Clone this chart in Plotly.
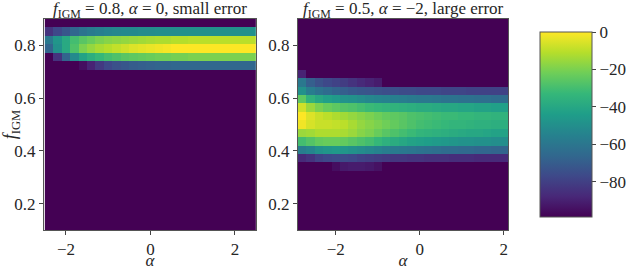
import plotly.graph_objects as go

# ---------------- data ----------------
alpha_left = [-2.4, -2.2, -2.0, -1.8, -1.6, -1.4, -1.2, -1.0, -0.8, -0.6, -0.4, -0.2,
              0.0, 0.2, 0.4, 0.6, 0.8, 1.0, 1.2, 1.4, 1.6, 1.8, 2.0, 2.2, 2.4]
alpha_right = [-2.8, -2.6, -2.4, -2.2, -2.0, -1.8, -1.6, -1.4, -1.2, -1.0, -0.8, -0.6,
               -0.4, -0.2, 0.0, 0.2, 0.4, 0.6, 0.8, 1.0, 1.2, 1.4, 1.6, 1.8, 2.0]
f_igm = [0.116, 0.148, 0.180, 0.212, 0.244, 0.276, 0.308, 0.340, 0.372, 0.404,
         0.436, 0.468, 0.500, 0.532, 0.564, 0.596, 0.628, 0.660, 0.692, 0.724,
         0.756, 0.788, 0.820, 0.852, 0.884]

BG = -98.7  # floor of the log-likelihood

# left panel: rows with signal (row index -> values along alpha)
left_first_row = 19
left_band = [
    [BG, BG, BG, BG, -95, -89, -82, -77, -74, -72, -70, -69, -68, -67, -67, -66, -66, -66, -66, -66, -66, -66, -66, -66, -66],
    [BG, -84, -67, -52, -42, -37, -33, -30, -28, -26, -25, -24, -23, -22, -22, -21, -21, -20, -20, -20, -20, -20, -20, -20, -20],
    [-67, -49, -39, -28, -20, -16, -13, -11, -9, -7, -5, -4, -3, -2, -1, 0, 0, 0, 0, 0, 0, 0, 0, 0, 0],
    [-59, -47, -39, -30, -26, -23, -20, -18, -17, -16, -15, -14, -13, -12, -12, -11, -11, -10, -10, -10, -10, -10, -10, -10, -10],
    [-84, -77, -72, -66, -61, -58, -56, -54, -53, -52, -52, -51, -51, -50, -50, -50, -49, -49, -49, -49, -49, -49, -49, -49, -49],
]

right_first_row = 7
right_band = [
    [BG, BG, BG, BG, -95, -92, -91, -91, -92, -94, BG, BG, BG, BG, BG, BG, BG, BG, BG, BG, BG, BG, BG, BG, BG],
    [-87, -84, -79, -77, -76, -76, -77, -79, -80, -81, -82, -83, -83, -84, -84, -85, -85, -85, -86, -86, -86, -87, -87, -87, -87],
    [-57, -54, -49, -47, -46, -47, -49, -51, -53, -55, -57, -58, -59, -60, -61, -62, -63, -64, -64, -65, -65, -66, -66, -67, -67],
    [-30, -27, -24, -23, -23, -24, -26, -28, -30, -33, -36, -38, -40, -42, -43, -44, -45, -46, -47, -48, -48, -49, -49, -50, -50],
    [-15, -14, -12, -12, -12, -13, -15, -18, -20, -23, -26, -28, -30, -32, -34, -35, -36, -37, -38, -39, -40, -40, -41, -42, -42],
    [-2, -6, -8, -8, -9, -10, -13, -16, -18, -20, -22, -24, -26, -28, -30, -31, -32, -33, -34, -34, -35, -36, -36, -37, -37],
    [0, -5, -8, -10, -12, -14, -16, -18, -20, -22, -24, -25, -26, -28, -29, -30, -31, -32, -32, -33, -33, -34, -34, -35, -35],
    [-7, -15, -20, -23, -25, -27, -28, -30, -32, -33, -34, -35, -36, -37, -38, -38, -39, -40, -40, -41, -41, -42, -42, -43, -43],
    [-25, -35, -40, -43, -45, -48, -49, -51, -53, -54, -55, -56, -57, -58, -59, -59, -60, -61, -61, -62, -62, -63, -63, -64, -64],
    [-49, -57, -61, -64, -67, -69, -71, -72, -73, -74, -75, -75, -76, -76, -77, -77, -77, -78, -78, -78, -79, -79, -79, -79, -79],
    [-59, -69, -74, -77, -79, -81, -84, -87, -89, -91, BG, BG, BG, BG, BG, BG, BG, BG, BG, BG, BG, BG, BG, BG, BG],
    [-89, BG, BG, BG, BG, BG, BG, BG, BG, BG, BG, BG, BG, BG, BG, BG, BG, BG, BG, BG, BG, BG, BG, BG, BG],
]

cbar_ticks = [0, -20, -40, -60, -80]
x_ticks = [-2, 0, 2]
y_ticks = [0.2, 0.4, 0.6, 0.8]
titles = ["<i>f</i><sub>IGM</sub> = 0.8, <i>α</i> = 0, small error",
          "<i>f</i><sub>IGM</sub> = 0.5, <i>α</i> = −2, large error"]


def build(band, first_row, ncols):
    z = []
    for i in range(len(f_igm)):
        j = i - first_row
        if 0 <= j < len(band):
            z.append(list(band[j]))
        else:
            z.append([BG] * ncols)
    return z


z_left = build(left_band, left_first_row, len(alpha_left))
z_right = build(right_band, right_first_row, len(alpha_right))

ZMIN, ZMAX = -98.7, 0.0
FONT = "Liberation Serif"
TXT = "#262626"
W, H = 628, 270
ml, mr, mt, mb = 44, 120, 19, 40
pw = W - ml - mr

fig = go.Figure()
fig.add_trace(go.Heatmap(x=alpha_left, y=f_igm, z=z_left, colorscale="Viridis",
                         zmin=ZMIN, zmax=ZMAX, showscale=False,
                         xaxis="x", yaxis="y"))
fig.add_trace(go.Heatmap(x=alpha_right, y=f_igm, z=z_right, colorscale="Viridis",
                         zmin=ZMIN, zmax=ZMAX, xaxis="x2", yaxis="y2",
                         colorbar=dict(
                             x=(540 - ml) / pw, xanchor="left", xref="paper",
                             y=0.5, yanchor="middle",
                             thickness=52, thicknessmode="pixels",
                             len=185, lenmode="pixels",
                             outlinewidth=1, outlinecolor="#555555",
                             tickvals=cbar_ticks, ticks="outside", ticklen=4,
                             tickcolor="#444444",
                             tickfont=dict(family=FONT, size=17, color=TXT),
                             ypad=0, xpad=0,
                         )))

axis_common = dict(showline=True, mirror=True, linecolor="#555555", linewidth=1,
                   ticks="outside", ticklen=4, tickcolor="#444444",
                   showgrid=False, zeroline=False, automargin=False,
                   tickfont=dict(family=FONT, size=17, color=TXT))

d1 = [0, 212 / pw]
d2 = [(298 - ml) / pw, 1.0]

fig.update_layout(
    width=W, height=H,
    margin=dict(l=ml, r=mr, t=mt, b=mb, autoexpand=False),
    paper_bgcolor="white", plot_bgcolor="white",
    font=dict(family=FONT, size=17, color=TXT),
    xaxis=dict(domain=d1, range=[-2.52, 2.5], tickvals=x_ticks, anchor="y",
               title=dict(text="<i>α</i>", standoff=0, font=dict(size=17)), **axis_common),
    yaxis=dict(domain=[0, 1], range=[0.1, 0.9], tickvals=y_ticks, anchor="x",
               title=dict(text="<i>f</i><sub>IGM</sub>", standoff=2, font=dict(size=18)),
               **axis_common),
    xaxis2=dict(domain=d2, range=[-2.9, 2.1], tickvals=x_ticks, anchor="y2",
                title=dict(text="<i>α</i>", standoff=0, font=dict(size=17)), **axis_common),
    yaxis2=dict(domain=[0, 1], range=[0.1, 0.9], tickvals=y_ticks, anchor="x2",
                **axis_common),
    annotations=[
        dict(text=titles[0], x=(d1[0] + d1[1]) / 2, y=1, xref="paper", yref="paper",
             xanchor="center", yanchor="bottom", showarrow=False, yshift=-4,
             font=dict(family=FONT, size=17, color=TXT)),
        dict(text=titles[1], x=(d2[0] + d2[1]) / 2, y=1, xref="paper", yref="paper",
             xanchor="center", yanchor="bottom", showarrow=False, yshift=-4,
             font=dict(family=FONT, size=17, color=TXT)),
    ],
)

fig.write_html("out.html", config={"displayModeBar": False},
               post_script="document.body.style.margin='0px';document.body.style.overflow='hidden';")
